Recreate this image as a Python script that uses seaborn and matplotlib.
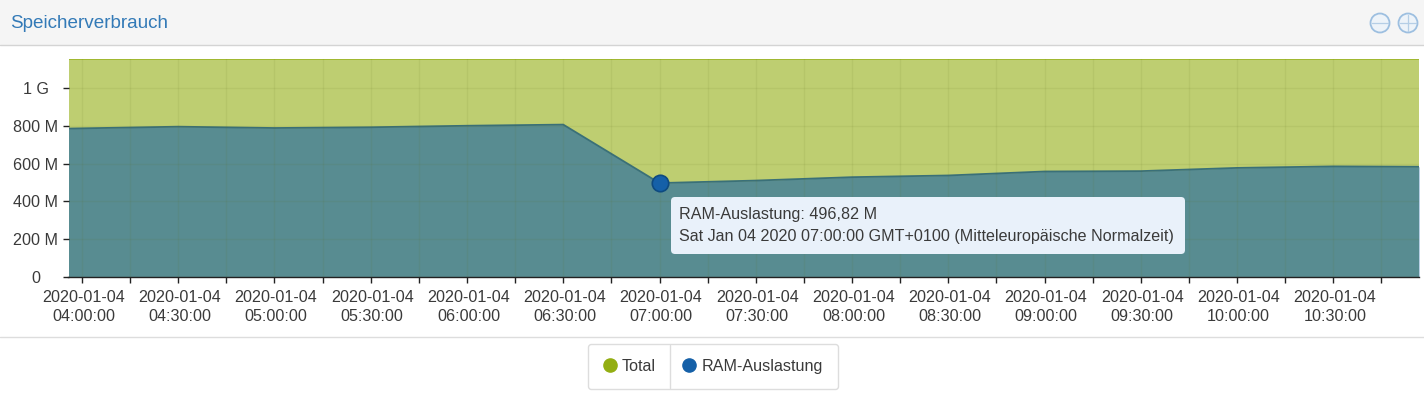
import matplotlib
matplotlib.use("Agg")
import matplotlib.pyplot as plt
import matplotlib.dates as mdates
import matplotlib.transforms as mtrans
from matplotlib.lines import Line2D
from matplotlib.patches import Circle, FancyBboxPatch, Rectangle
import pandas as pd
import seaborn as sns

# ---- data ----
times = ["03:55:48", "04:30:00", "05:00:00", "05:30:00", "06:00:00", "06:30:00", "07:00:00",
         "07:30:00", "08:00:00", "08:30:00", "09:00:00", "09:30:00", "10:00:00", "10:30:00", "10:56:42"]
ram_mb = [785, 795, 788, 792, 800, 806, 496.82, 510, 528, 537, 558, 560, 577, 585, 583]
total_mb = [1153] * len(times)
highlight_time = "07:00:00"
highlight_value = 496.82
y_ticks = [0, 200, 400, 600, 800, 1000]
y_labels = ["0", "200 M", "400 M", "600 M", "800 M", "1 G"]
title = "Speicherverbrauch"
tooltip_lines = ["RAM-Auslastung: 496,82 M",
                 "Sat Jan 04 2020 07:00:00 GMT+0100 (Mitteleuropäische Normalzeit)"]
series_names = ["Total", "RAM-Auslastung"]

GREEN = "#93AE12"
BLUE = "#1560A8"
TEXT = "#3A3A3A"
FS = 11.6

sns.set_theme(style="white")
plt.rcParams["font.family"] = ["Liberation Sans", "DejaVu Sans"]

W, H = 1424, 395
fig = plt.figure(figsize=(W / 100, H / 100), dpi=100, facecolor="white")

# page chrome underneath the plot, in pixel coordinates
bg = fig.add_axes([0, 0, 1, 1], zorder=0)
bg.set_xlim(0, W); bg.set_ylim(H, 0); bg.axis("off")
bg.add_patch(Rectangle((0, 0), W, 45, fc="#F5F5F5", ec="none"))
bg.plot([0, W], [45.0, 45.0], color="#D4D4D4", lw=1)
bg.plot([0, W], [337.0, 337.0], color="#DDDDDD", lw=1)
bg.text(10, 23, title, color="#337AB7", fontsize=13.6, va="center", ha="left")
for cx, cross in ((1380, False), (1408, True)):
    bg.add_patch(Circle((cx, 23), 9.5, fc="#EDF3F9", ec="#9DBFE0", lw=1.3))
    bg.plot([cx - 8, cx + 8], [23, 23], color="#B5CEE6", lw=0.9)
    if cross:
        bg.plot([cx, cx], [15, 31], color="#B5CEE6", lw=0.9)

# main plot
L, R, T, B = 68.5, 1419, 59, 277
ax = fig.add_axes([L / W, 1 - B / H, (R - L) / W, (B - T) / H], zorder=1)
day = "2020-01-04 "
df = pd.DataFrame({"time": pd.to_datetime([day + t for t in times]),
                   "ram": ram_mb, "total": total_mb})
ax.fill_between(df["time"], 0, df["total"], color=GREEN, alpha=0.6, lw=0)
ax.fill_between(df["time"], 0, df["ram"], color=BLUE, alpha=0.6, lw=0)
sns.lineplot(data=df, x="time", y="total", ax=ax, color=GREEN, lw=1.2, alpha=.8, legend=False)
sns.lineplot(data=df, x="time", y="ram", ax=ax, color="#3A7078", lw=1.3, legend=False)
sns.scatterplot(x=pd.to_datetime([day + highlight_time]), y=[highlight_value], ax=ax, s=140,
                color=BLUE, edgecolor="#0E4A80", linewidth=1.2, zorder=5, legend=False, clip_on=False)

ax.set_xlim(df["time"].iloc[0], df["time"].iloc[-1])
ax.set_ylim(0, 1153)
ax.set_xlabel(""); ax.set_ylabel("")
ticks15 = pd.date_range(day + "04:00:00", day + "10:45:00", freq="15min")
ax.set_xticks(mdates.date2num(ticks15))
ax.set_xticklabels([t.strftime("%Y-%m-%d\n%H:%M:%S") if t.minute % 30 == 0 else "" for t in ticks15],
                   fontsize=FS, color=TEXT, linespacing=1.28)
ax.set_yticks(y_ticks)
ax.set_yticklabels(y_labels, fontsize=FS, color=TEXT, ha="center")
ax.tick_params(axis="x", length=4, width=1, color="#222222", pad=5.5, bottom=True)
ax.tick_params(axis="y", length=4.3, width=1, color="#222222", pad=19.2, left=True)
shift = mtrans.ScaledTranslation(1.5 / 100, 0, fig.dpi_scale_trans)
for lab in ax.get_xticklabels():
    lab.set_transform(lab.get_transform() + shift)
ax.grid(True, color="#5E6B20", alpha=0.09, lw=1)
ax.set_axisbelow(False)
for s in ("top", "right", "left"):
    ax.spines[s].set_visible(False)
ax.spines["bottom"].set_color("#222222")
ax.spines["bottom"].set_linewidth(1)

# overlay: tooltip and legend divider
top = fig.add_axes([0, 0, 1, 1], zorder=3)
top.set_xlim(0, W); top.set_ylim(H, 0); top.axis("off"); top.patch.set_alpha(0)
top.add_patch(FancyBboxPatch((671, 197), 514, 57, boxstyle="round,pad=0,rounding_size=4",
                             fc="#E9F1FA", ec="none"))
top.text(679, 215, tooltip_lines[0], fontsize=FS, color=TEXT, va="center", ha="left")
top.text(679, 236, tooltip_lines[1], fontsize=FS, color=TEXT, va="center", ha="left")
top.plot([669.5, 669.5], [345, 388], color="#DDDDDD", lw=1)

handles = [Line2D([], [], ls="", marker="o", ms=9.5, color=GREEN, mec=GREEN),
           Line2D([], [], ls="", marker="o", ms=9.5, color=BLUE, mec=BLUE)]
leg = fig.legend(handles, series_names, ncol=2, loc="center",
                 bbox_to_anchor=(713 / W, 1 - 366.5 / H), fontsize=FS,
                 frameon=True, fancybox=True, edgecolor="#DDDDDD", facecolor="white",
                 framealpha=1, handlelength=0.8, handletextpad=0.35, columnspacing=1.65,
                 borderpad=0.95, labelcolor=TEXT)
leg.set_zorder(2)

fig.savefig("out.png", dpi=100)
